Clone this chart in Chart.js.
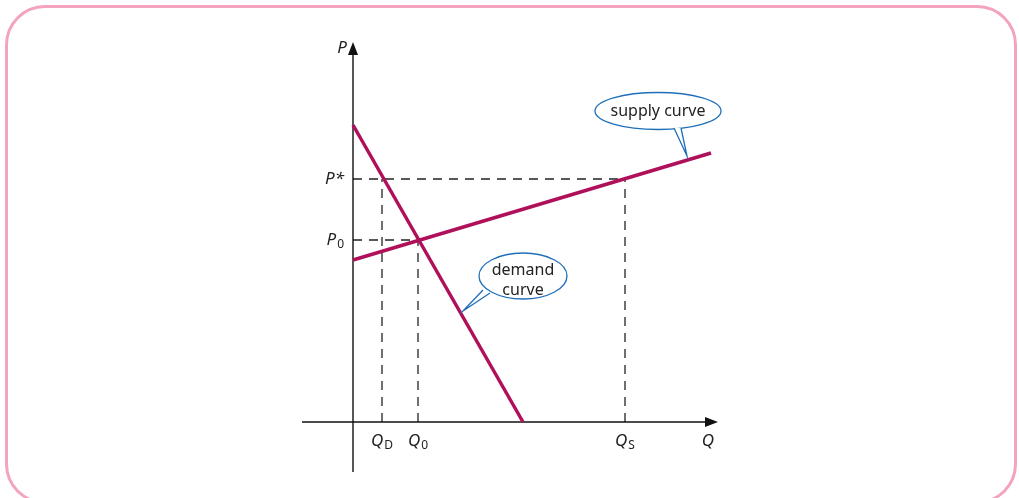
<!DOCTYPE html>
<html lang="en">
<head>
    <meta charset="UTF-8">
    <title>Supply and demand</title>
    <style>
        html, body { margin: 0; padding: 0; background: #fff; overflow: hidden; }
        .frame {
            position: absolute; left: 5px; top: 5px; width: 1012px; height: 499px;
            box-sizing: border-box; border: 3.5px solid #f4a3bd; border-radius: 40px;
        }
        canvas { position: absolute; left: 0; top: 0; }
    </style>
</head>
<body>
    <div class="frame"></div>
    <canvas id="chart" width="1019" height="498"></canvas>

    <script src="https://cdn.jsdelivr.net/npm/chart.js"></script>
    <script>
        // values (arbitrary units, origin at axes crossing)
        const demandQ = [0, 17.0];
        const demandP = [29.7, 0];
        const supplyQ = [0, 35.8];
        const supplyP = [16.2, 26.9];

        const priceNames = ['P*', 'P0'];
        const priceValues = [24.3, 18.2];
        const quantityNames = ['QD', 'Q0', 'QS'];
        const quantityValues = [2.9, 6.5, 27.2];

        const xAxisRange = [-5.1, 36.5];
        const yAxisRange = [-5.0, 38.0];

        const curveColor = '#b0105a';
        const dashColor = '#222222';
        const calloutColor = '#1f6fb8';
        const font = '"Noto Sans", "Open Sans", sans-serif';

        function pts(xs, ys) {
            return xs.map((x, i) => ({ x: x, y: ys[i] }));
        }

        const pStar = priceValues[0], p0 = priceValues[1];
        const qD = quantityValues[0], q0 = quantityValues[1], qS = quantityValues[2];

        const dashed = (data) => ({
            data: data, borderColor: dashColor, borderWidth: 1.3, borderDash: [9, 7],
            pointRadius: 0, showLine: true, fill: false
        });
        const solid = (data, color, w) => ({
            data: data, borderColor: color, borderWidth: w,
            pointRadius: 0, showLine: true, fill: false, borderCapStyle: 'butt'
        });

        const datasets = [
            solid(pts(demandQ, demandP), curveColor, 3.5),
            solid(pts(supplyQ, supplyP), curveColor, 3.5),
            solid([{ x: xAxisRange[0], y: 0 }, { x: xAxisRange[1] - 1, y: 0 }], '#111', 1.4),
            solid([{ x: 0, y: yAxisRange[0] }, { x: 0, y: yAxisRange[1] - 1 }], '#111', 1.4),
            dashed([{ x: 0, y: pStar }, { x: qS, y: pStar }]),
            dashed([{ x: qD, y: 0 }, { x: qD, y: pStar }]),
            dashed([{ x: qS, y: 0 }, { x: qS, y: pStar }]),
            dashed([{ x: 0, y: p0 }, { x: q0, y: p0 }]),
            dashed([{ x: q0, y: 0 }, { x: q0, y: p0 }])
        ];

        // label with italic letter and upright subscript
        function symbol(ctx, txt, x, y, align) {
            const main = txt[0];
            const rest = txt.slice(1);
            const isSub = rest && rest !== '*';
            const head = main + (rest === '*' ? '*' : '');
            ctx.font = 'italic 17px ' + font;
            const w1 = ctx.measureText(head).width;
            ctx.font = '12px ' + font;
            const w2 = isSub ? ctx.measureText(rest).width + 1 : 0;
            const total = w1 + w2;
            let left = x;
            if (align === 'center') left = x - total / 2;
            if (align === 'right') left = x - total;
            ctx.textBaseline = 'middle';
            ctx.textAlign = 'left';
            ctx.fillStyle = '#222';
            ctx.font = 'italic 17px ' + font;
            ctx.fillText(head, left, y);
            if (isSub) {
                ctx.font = '12px ' + font;
                ctx.fillText(rest, left + w1 + 1, y + 5);
            }
        }

        function callout(ctx, cx, cy, rx, ry, b1, b2, tip, lines, textY) {
            ctx.save();
            ctx.lineWidth = 1.3;
            ctx.strokeStyle = calloutColor;
            ctx.fillStyle = '#fff';
            ctx.beginPath();
            ctx.ellipse(cx, cy, rx, ry, 0, 0, Math.PI * 2);
            ctx.fill();
            ctx.stroke();
            ctx.beginPath();
            ctx.moveTo(b1[0], b1[1]);
            ctx.lineTo(tip[0], tip[1]);
            ctx.lineTo(b2[0], b2[1]);
            ctx.closePath();
            ctx.fill();
            ctx.beginPath();
            ctx.moveTo(b1[0], b1[1]);
            ctx.lineTo(tip[0], tip[1]);
            ctx.lineTo(b2[0], b2[1]);
            ctx.stroke();
            ctx.fillStyle = '#222';
            ctx.font = '16px ' + font;
            ctx.textAlign = 'center';
            ctx.textBaseline = 'middle';
            lines.forEach((t, i) => {
                ctx.fillText(t, cx, textY + (i - (lines.length - 1) / 2) * 20);
            });
            ctx.restore();
        }

        const decorations = {
            id: 'decorations',
            afterDatasetsDraw(chart) {
                const ctx = chart.ctx;
                const xs = chart.scales.x, ys = chart.scales.y;
                const X = v => xs.getPixelForValue(v);
                const Y = v => ys.getPixelForValue(v);
                ctx.save();

                // arrowheads
                ctx.fillStyle = '#111';
                const ox = X(0), oy = Y(0);
                const ty = Y(yAxisRange[1]);
                ctx.beginPath();
                ctx.moveTo(ox, ty);
                ctx.lineTo(ox - 5, ty + 13);
                ctx.lineTo(ox + 5, ty + 13);
                ctx.closePath();
                ctx.fill();
                const tx = X(xAxisRange[1]);
                ctx.beginPath();
                ctx.moveTo(tx, oy);
                ctx.lineTo(tx - 13, oy - 5);
                ctx.lineTo(tx - 13, oy + 5);
                ctx.closePath();
                ctx.fill();

                // axis titles and level labels
                symbol(ctx, 'P', ox - 6, ty + 6, 'right');
                symbol(ctx, 'Q', tx - 10, oy + 19, 'center');
                priceNames.forEach((n, i) => symbol(ctx, n, ox - 9, Y(priceValues[i]), 'right'));
                quantityNames.forEach((n, i) => symbol(ctx, n, X(quantityValues[i]), oy + 19, 'center'));

                // speech-bubble callouts
                callout(ctx, X(30.5), Y(31.1), 63, 18.5,
                    [X(32.1), Y(29.4)], [X(32.8), Y(29.4)], [X(33.4), Y(26.6)],
                    ['supply curve'], Y(31.1));
                callout(ctx, X(17.0), Y(14.6), 44, 23,
                    [X(13.0), Y(13.2)], [X(13.7), Y(12.9)], [X(11.0), Y(11.1)],
                    ['demand', 'curve'], Y(14.2));
                ctx.restore();
            }
        };

        new Chart(document.getElementById('chart'), {
            type: 'scatter',
            data: { datasets: datasets },
            options: {
                responsive: false,
                animation: false,
                devicePixelRatio: 1,
                layout: { padding: 0 },
                plugins: { legend: { display: false }, tooltip: { enabled: false } },
                scales: {
                    x: { type: 'linear', display: false, min: -35.3, max: 66.6 },
                    y: { type: 'linear', display: false, min: -7.6, max: 42.2 }
                }
            },
            plugins: [decorations]
        });
    </script>
</body>
</html>
